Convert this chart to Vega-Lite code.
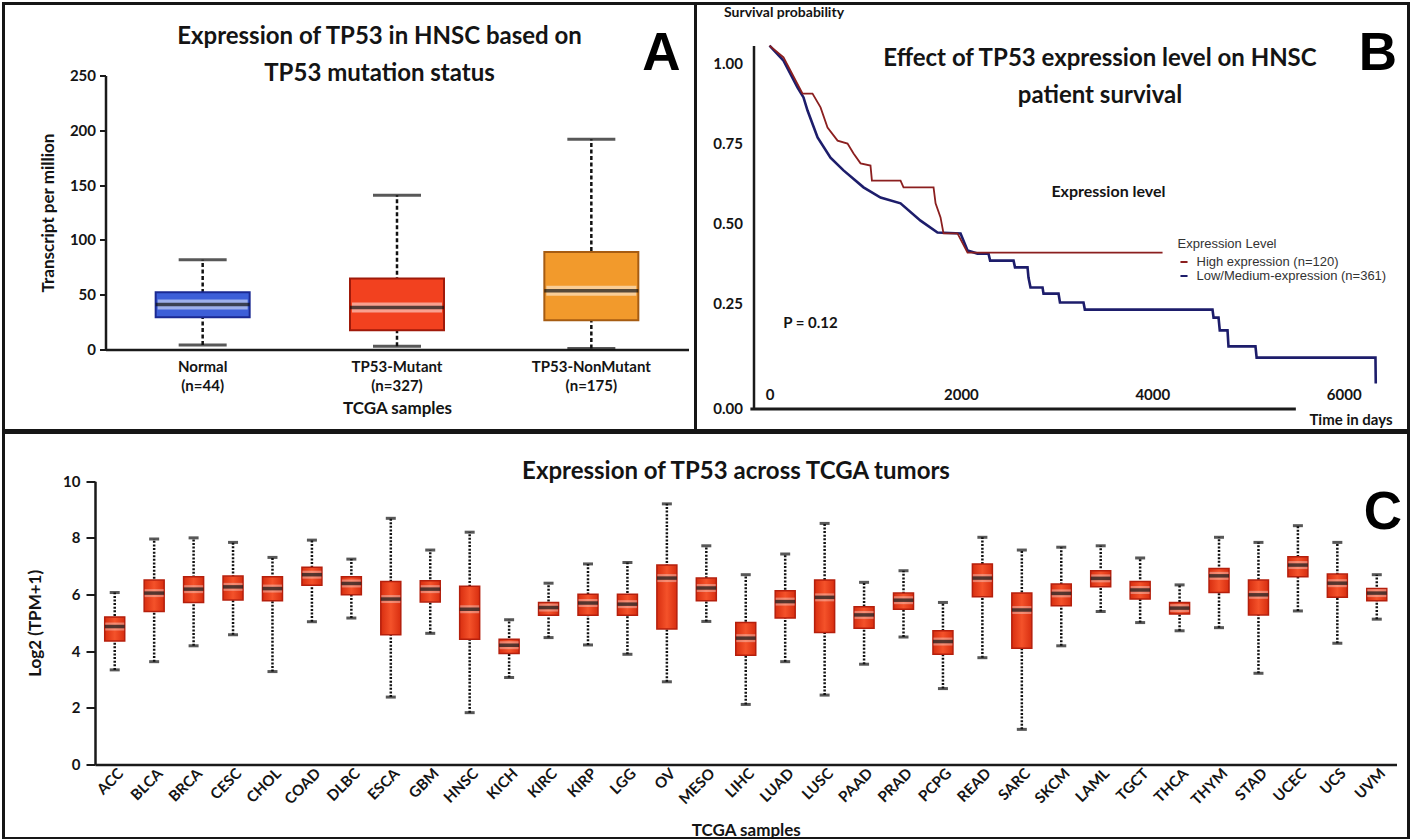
{
  "$schema": "https://vega.github.io/schema/vega-lite/v6.json",
  "background": "white",
  "padding": 1.5,
  "spacing": -6,
  "config": {
    "font": "Lato",
    "view": {"stroke": "#161616", "strokeWidth": 3},
    "axis": {"grid": false, "labelFont": "Lato", "labelFontWeight": "bold", "labelColor": "#141414", "titleFont": "Lato", "titleFontWeight": "bold", "titleColor": "#141414", "domainColor": "#1a1a1a", "domainWidth": 2.5, "tickColor": "#1a1a1a", "tickWidth": 2, "labelFlush": false},
    "title": {"font": "Lato", "fontWeight": "bold", "fontSize": 24, "color": "#141414", "anchor": "middle", "frame": "group", "lineHeight": 37}
  },
  "datasets": {
    "hnsc": [
      {"group": "Normal (n=44)", "lower": 4.2, "q1": 29.5, "median": 41, "q3": 52.3, "upper": 81.8},
      {"group": "TP53-Mutant (n=327)", "lower": 3, "q1": 17.6, "median": 38.3, "q3": 64.8, "upper": 140.8},
      {"group": "TP53-NonMutant (n=175)", "lower": 0.9, "q1": 26.7, "median": 53.5, "q3": 89, "upper": 191.9}
    ],
    "km": [
      {"group": "Low/Medium-expression (n=361)", "time": 0, "surv": 1.056},
      {"group": "Low/Medium-expression (n=361)", "time": 146, "surv": 1.009},
      {"group": "Low/Medium-expression (n=361)", "time": 293, "surv": 0.925},
      {"group": "Low/Medium-expression (n=361)", "time": 355, "surv": 0.894},
      {"group": "Low/Medium-expression (n=361)", "time": 397, "surv": 0.853},
      {"group": "Low/Medium-expression (n=361)", "time": 502, "surv": 0.769},
      {"group": "Low/Medium-expression (n=361)", "time": 637, "surv": 0.706},
      {"group": "Low/Medium-expression (n=361)", "time": 773, "surv": 0.666},
      {"group": "Low/Medium-expression (n=361)", "time": 982, "surv": 0.613},
      {"group": "Low/Medium-expression (n=361)", "time": 1160, "surv": 0.581},
      {"group": "Low/Medium-expression (n=361)", "time": 1369, "surv": 0.563},
      {"group": "Low/Medium-expression (n=361)", "time": 1578, "surv": 0.509},
      {"group": "Low/Medium-expression (n=361)", "time": 1755, "surv": 0.472},
      {"group": "Low/Medium-expression (n=361)", "time": 1996, "surv": 0.469},
      {"group": "Low/Medium-expression (n=361)", "time": 2069, "surv": 0.416},
      {"group": "Low/Medium-expression (n=361)", "time": 2173, "surv": 0.406},
      {"group": "Low/Medium-expression (n=361)", "time": 2288, "surv": 0.406},
      {"group": "Low/Medium-expression (n=361)", "time": 2305, "surv": 0.384},
      {"group": "Low/Medium-expression (n=361)", "time": 2550, "surv": 0.384},
      {"group": "Low/Medium-expression (n=361)", "time": 2565, "surv": 0.363},
      {"group": "Low/Medium-expression (n=361)", "time": 2696, "surv": 0.363},
      {"group": "Low/Medium-expression (n=361)", "time": 2706, "surv": 0.331},
      {"group": "Low/Medium-expression (n=361)", "time": 2727, "surv": 0.300},
      {"group": "Low/Medium-expression (n=361)", "time": 2853, "surv": 0.300},
      {"group": "Low/Medium-expression (n=361)", "time": 2863, "surv": 0.281},
      {"group": "Low/Medium-expression (n=361)", "time": 3020, "surv": 0.281},
      {"group": "Low/Medium-expression (n=361)", "time": 3035, "surv": 0.253},
      {"group": "Low/Medium-expression (n=361)", "time": 3281, "surv": 0.253},
      {"group": "Low/Medium-expression (n=361)", "time": 3295, "surv": 0.231},
      {"group": "Low/Medium-expression (n=361)", "time": 4629, "surv": 0.231},
      {"group": "Low/Medium-expression (n=361)", "time": 4640, "surv": 0.206},
      {"group": "Low/Medium-expression (n=361)", "time": 4692, "surv": 0.206},
      {"group": "Low/Medium-expression (n=361)", "time": 4705, "surv": 0.166},
      {"group": "Low/Medium-expression (n=361)", "time": 4786, "surv": 0.166},
      {"group": "Low/Medium-expression (n=361)", "time": 4796, "surv": 0.116},
      {"group": "Low/Medium-expression (n=361)", "time": 5078, "surv": 0.116},
      {"group": "Low/Medium-expression (n=361)", "time": 5090, "surv": 0.081},
      {"group": "Low/Medium-expression (n=361)", "time": 6332, "surv": 0.081},
      {"group": "Low/Medium-expression (n=361)", "time": 6335, "surv": 0.0},
      {"group": "High expression (n=120)", "time": 0, "surv": 1.056},
      {"group": "High expression (n=120)", "time": 146, "surv": 1.019},
      {"group": "High expression (n=120)", "time": 345, "surv": 0.906},
      {"group": "High expression (n=120)", "time": 449, "surv": 0.906},
      {"group": "High expression (n=120)", "time": 533, "surv": 0.863},
      {"group": "High expression (n=120)", "time": 606, "surv": 0.800},
      {"group": "High expression (n=120)", "time": 711, "surv": 0.759},
      {"group": "High expression (n=120)", "time": 815, "surv": 0.750},
      {"group": "High expression (n=120)", "time": 878, "surv": 0.719},
      {"group": "High expression (n=120)", "time": 951, "surv": 0.688},
      {"group": "High expression (n=120)", "time": 1055, "surv": 0.681},
      {"group": "High expression (n=120)", "time": 1070, "surv": 0.634},
      {"group": "High expression (n=120)", "time": 1369, "surv": 0.634},
      {"group": "High expression (n=120)", "time": 1400, "surv": 0.613},
      {"group": "High expression (n=120)", "time": 1714, "surv": 0.613},
      {"group": "High expression (n=120)", "time": 1735, "surv": 0.563},
      {"group": "High expression (n=120)", "time": 1787, "surv": 0.519},
      {"group": "High expression (n=120)", "time": 1818, "surv": 0.469},
      {"group": "High expression (n=120)", "time": 1964, "surv": 0.469},
      {"group": "High expression (n=120)", "time": 2069, "surv": 0.409},
      {"group": "High expression (n=120)", "time": 4107, "surv": 0.409}
    ],
    "tcga": [
      {"tumor": "ACC", "lower": 3.34, "q1": 4.36, "median": 4.87, "q3": 5.21, "upper": 6.07},
      {"tumor": "BLCA", "lower": 3.63, "q1": 5.40, "median": 6.05, "q3": 6.51, "upper": 7.96},
      {"tumor": "BRCA", "lower": 4.19, "q1": 5.72, "median": 6.19, "q3": 6.63, "upper": 8.0},
      {"tumor": "CESC", "lower": 4.58, "q1": 5.81, "median": 6.27, "q3": 6.65, "upper": 7.84},
      {"tumor": "CHOL", "lower": 3.28, "q1": 5.78, "median": 6.21, "q3": 6.63, "upper": 7.31},
      {"tumor": "COAD", "lower": 5.04, "q1": 6.33, "median": 6.70, "q3": 6.96, "upper": 7.92},
      {"tumor": "DLBC", "lower": 5.17, "q1": 5.99, "median": 6.39, "q3": 6.63, "upper": 7.25},
      {"tumor": "ESCA", "lower": 2.38, "q1": 4.58, "median": 5.84, "q3": 6.46, "upper": 8.69},
      {"tumor": "GBM", "lower": 4.63, "q1": 5.74, "median": 6.19, "q3": 6.49, "upper": 7.57},
      {"tumor": "HNSC", "lower": 1.83, "q1": 4.42, "median": 5.48, "q3": 6.29, "upper": 8.20},
      {"tumor": "KICH", "lower": 3.07, "q1": 3.92, "median": 4.21, "q3": 4.42, "upper": 5.11},
      {"tumor": "KIRC", "lower": 4.48, "q1": 5.27, "median": 5.54, "q3": 5.72, "upper": 6.40},
      {"tumor": "KIRP", "lower": 4.22, "q1": 5.27, "median": 5.70, "q3": 6.01, "upper": 7.08},
      {"tumor": "LGG", "lower": 3.89, "q1": 5.27, "median": 5.66, "q3": 6.01, "upper": 7.13},
      {"tumor": "OV", "lower": 2.92, "q1": 4.78, "median": 6.58, "q3": 7.04, "upper": 9.20},
      {"tumor": "MESO", "lower": 5.05, "q1": 5.78, "median": 6.23, "q3": 6.58, "upper": 7.72},
      {"tumor": "LIHC", "lower": 2.12, "q1": 3.86, "median": 4.46, "q3": 5.01, "upper": 6.70},
      {"tumor": "LUAD", "lower": 3.63, "q1": 5.17, "median": 5.75, "q3": 6.13, "upper": 7.43},
      {"tumor": "LUSC", "lower": 2.45, "q1": 4.66, "median": 5.90, "q3": 6.51, "upper": 8.51},
      {"tumor": "PAAD", "lower": 3.54, "q1": 4.81, "median": 5.28, "q3": 5.57, "upper": 6.43},
      {"tumor": "PRAD", "lower": 4.50, "q1": 5.48, "median": 5.80, "q3": 6.05, "upper": 6.84},
      {"tumor": "PCPG", "lower": 2.68, "q1": 3.89, "median": 4.34, "q3": 4.72, "upper": 5.72},
      {"tumor": "READ", "lower": 3.77, "q1": 5.92, "median": 6.58, "q3": 7.08, "upper": 8.02},
      {"tumor": "SARC", "lower": 1.24, "q1": 4.10, "median": 5.45, "q3": 6.05, "upper": 7.57},
      {"tumor": "SKCM", "lower": 4.19, "q1": 5.60, "median": 6.04, "q3": 6.37, "upper": 7.67},
      {"tumor": "LAML", "lower": 5.40, "q1": 6.27, "median": 6.57, "q3": 6.84, "upper": 7.72},
      {"tumor": "TGCT", "lower": 5.01, "q1": 5.84, "median": 6.16, "q3": 6.46, "upper": 7.29},
      {"tumor": "THCA", "lower": 4.72, "q1": 5.31, "median": 5.52, "q3": 5.72, "upper": 6.34},
      {"tumor": "THYM", "lower": 4.83, "q1": 6.07, "median": 6.66, "q3": 6.92, "upper": 8.02},
      {"tumor": "STAD", "lower": 3.22, "q1": 5.28, "median": 5.99, "q3": 6.51, "upper": 7.84},
      {"tumor": "UCEC", "lower": 5.42, "q1": 6.63, "median": 7.04, "q3": 7.33, "upper": 8.43},
      {"tumor": "UCS", "lower": 4.28, "q1": 5.90, "median": 6.40, "q3": 6.72, "upper": 7.84},
      {"tumor": "UVM", "lower": 5.13, "q1": 5.78, "median": 6.05, "q3": 6.21, "upper": 6.70}
    ]
  },
  "vconcat": [
    {
      "spacing": 0,
      "bounds": "flush",
      "hconcat": [
        {
          "width": 692,
          "height": 427,
          "title": {"text": ["Expression of TP53 in HNSC based on", "TP53 mutation status"], "offset": -82, "dx": 30},
          "layer": [
            {
              "data": {"name": "hnsc"},
              "mark": {"type": "rule", "strokeDash": [4, 2.5], "strokeWidth": 2.5, "color": "#111111"},
              "encoding": {
                "x": {"field": "group", "type": "nominal", "sort": null,
                  "scale": {"range": [102, 685], "paddingInner": 0, "paddingOuter": 0},
                  "axis": {"orient": "bottom", "offset": -81, "title": "TCGA samples", "titleFontSize": 17, "titlePadding": 7, "labelExpr": "split(datum.value, ' ')", "labelAngle": 0, "labelFontSize": 15, "labelLineHeight": 19, "labelPadding": 10, "ticks": false}},
                "y": {"field": "lower", "type": "quantitative",
                  "scale": {"domain": [0, 250], "range": [346, 72], "nice": false, "zero": false},
                  "axis": {"orient": "left", "offset": -102, "values": [0, 50, 100, 150, 200, 250], "title": "Transcript per million", "titleFontSize": 17, "titlePadding": 12, "labelFontSize": 15, "tickSize": 6, "labelPadding": 4}},
                "y2": {"field": "upper"}
              }
            },
            {
              "data": {"name": "hnsc"},
              "mark": {"type": "tick", "size": 48, "thickness": 3, "color": "#111111"},
              "encoding": {"x": {"field": "group", "type": "nominal", "sort": null}, "y": {"field": "lower", "type": "quantitative"}}
            },
            {
              "data": {"name": "hnsc"},
              "mark": {"type": "tick", "size": 48, "thickness": 3, "color": "#111111"},
              "encoding": {"x": {"field": "group", "type": "nominal", "sort": null}, "y": {"field": "upper", "type": "quantitative"}}
            },
            {
              "data": {"name": "hnsc"},
              "mark": {"type": "bar", "size": 94, "strokeWidth": 2},
              "encoding": {
                "x": {"field": "group", "type": "nominal", "sort": null},
                "y": {"field": "q1", "type": "quantitative"},
                "y2": {"field": "q3"},
                "fill": {"field": "group", "type": "nominal", "scale": {"range": ["#3d5fd8", "#f2411f", "#f29a2c"]}, "legend": null},
                "stroke": {"field": "group", "type": "nominal", "scale": {"range": ["#1b2a93", "#a01a0a", "#a65c12"]}, "legend": null}
              }
            },
            {
              "data": {"name": "hnsc"},
              "mark": {"type": "tick", "size": 90, "thickness": 10, "color": "white", "opacity": 0.5},
              "encoding": {"x": {"field": "group", "type": "nominal", "sort": null}, "y": {"field": "median", "type": "quantitative"}}
            },
            {
              "data": {"name": "hnsc"},
              "mark": {"type": "tick", "size": 94, "thickness": 3.5, "color": "#111111"},
              "encoding": {"x": {"field": "group", "type": "nominal", "sort": null}, "y": {"field": "median", "type": "quantitative"}}
            },
            {
              "data": {"values": [{}]},
              "mark": {"type": "text", "font": "Liberation Sans", "fontWeight": "bold", "fontSize": 53, "baseline": "alphabetic", "align": "center", "dx": 70, "color": "#000000"},
              "encoding": {"x": {"datum": "TP53-NonMutant (n=175)"}, "y": {"datum": 254.6}, "text": {"value": "A"}}
            }
          ]
        },
        {
          "width": 713,
          "height": 427,
          "title": {"text": ["Effect of TP53 expression level on HNSC", "patient survival"], "offset": -104, "dx": 48},
          "layer": [
            {
              "data": {"name": "km"},
              "transform": [{"filter": "datum.group == 'Low/Medium-expression (n=361)'"}],
              "mark": {"type": "line", "strokeWidth": 2.6, "interpolate": "linear"},
              "encoding": {
                "x": {"field": "time", "type": "quantitative",
                  "scale": {"domain": [-200, 6000], "range": [54.9, 648.2], "nice": false, "zero": false},
                  "axis": {"orient": "bottom", "offset": -21.4, "domain": false, "ticks": false, "tickSize": 0, "values": [0, 2000, 4000, 6000], "format": "d", "labelFontSize": 15, "labelBaseline": "alphabetic", "labelPadding": -10, "labelFlush": false, "title": "Time in days", "titleFontSize": 15, "titleX": 655, "titleY": 10, "titleAlign": "center", "titleBaseline": "middle"}},
                "y": {"field": "surv", "type": "quantitative",
                  "scale": {"domain": [-0.08, 1.056], "range": [405.6, 42.1], "nice": false, "zero": false},
                  "axis": {"orient": "left", "offset": -58, "values": [0, 0.25, 0.5, 0.75, 1], "format": ".2f", "ticks": false, "tickSize": 0, "labelPadding": 11, "labelFontSize": 15, "labelOffset": {"condition": {"test": "datum.value == 0", "value": 25}, "value": 0}, "title": "Survival probability", "titleFontSize": 14, "titleAngle": 0, "titleX": 30, "titleY": 9, "titleAlign": "center", "titleBaseline": "middle"}},
                "color": {"field": "group", "type": "nominal",
                  "scale": {"domain": ["High expression (n=120)", "Low/Medium-expression (n=361)"], "range": ["#8b1f1f", "#1d1d6b"]},
                  "legend": {"orient": "none", "legendX": 1174, "legendY": 234, "title": "Expression Level", "titleFont": "Liberation Sans", "titleFontWeight": "normal", "titleFontSize": 13, "titleColor": "#333333", "labelFont": "Liberation Sans", "labelFontSize": 13, "labelColor": "#333333", "labelLimit": 400, "symbolType": "stroke", "symbolSize": 50, "symbolStrokeWidth": 2, "rowPadding": -3, "titlePadding": 5, "labelOffset": 6, "padding": 0}}
              }
            },
            {
              "data": {"name": "km"},
              "transform": [{"filter": "datum.group == 'High expression (n=120)'"}],
              "mark": {"type": "line", "strokeWidth": 1.8, "interpolate": "linear"},
              "encoding": {
                "x": {"field": "time", "type": "quantitative"},
                "y": {"field": "surv", "type": "quantitative"},
                "color": {"field": "group", "type": "nominal"}
              }
            },
            {
              "data": {"values": [{}]},
              "mark": {"type": "rule", "strokeWidth": 3, "color": "#1a1a1a"},
              "encoding": {"x": {"datum": -200}, "x2": {"datum": 5500}, "y": {"datum": -0.08}}
            },
            {
              "data": {"values": [{}]},
              "mark": {"type": "text", "font": "Lato", "fontWeight": "bold", "fontSize": 15, "color": "#141414"},
              "encoding": {"x": {"datum": 428}, "y": {"datum": 0.19}, "text": {"value": "P = 0.12"}}
            },
            {
              "data": {"values": [{}]},
              "mark": {"type": "text", "font": "Lato", "fontWeight": "bold", "fontSize": 16, "color": "#141414"},
              "encoding": {"x": {"datum": 3542}, "y": {"datum": 0.597}, "text": {"value": "Expression level"}}
            },
            {
              "data": {"values": [{}]},
              "mark": {"type": "text", "font": "Liberation Sans", "fontWeight": "bold", "fontSize": 53, "baseline": "alphabetic", "align": "center", "color": "#000000"},
              "encoding": {"x": {"datum": 6358}, "y": {"datum": 0.981}, "text": {"value": "B"}}
            }
          ]
        }
      ]
    },
    {
      "width": 1405,
      "height": 406,
      "title": {"text": "Expression of TP53 across TCGA tumors", "offset": -51, "dx": 30},
      "layer": [
        {
          "data": {"name": "tcga"},
          "mark": {"type": "rule", "strokeDash": [2, 1.6], "strokeWidth": 2.5, "color": "#111111"},
          "encoding": {
            "x": {"field": "tumor", "type": "nominal", "sort": null,
              "scale": {"range": [91.5, 1393], "paddingInner": 0, "paddingOuter": 0},
              "axis": {"orient": "bottom", "offset": -74, "ticks": false, "labelAngle": -45, "labelAlign": "right", "labelBaseline": "middle", "labelFontSize": 15, "labelPadding": 6, "labelOffset": 6, "title": "TCGA samples", "titleFontSize": 17, "titlePadding": 15}},
            "y": {"field": "lower", "type": "quantitative",
              "scale": {"domain": [0, 10], "range": [332, 48.7], "nice": false, "zero": false},
              "axis": {"orient": "left", "offset": -91.5, "values": [0, 2, 4, 6, 8, 10], "tickSize": 9, "labelPadding": 6, "labelFontSize": 15, "title": "Log2 (TPM+1)", "titleFontSize": 17, "titlePadding": 18}},
            "y2": {"field": "upper"}
          }
        },
        {
          "data": {"name": "tcga"},
          "mark": {"type": "tick", "size": 10, "thickness": 3, "color": "#111111"},
          "encoding": {"x": {"field": "tumor", "type": "nominal", "sort": null}, "y": {"field": "lower", "type": "quantitative"}}
        },
        {
          "data": {"name": "tcga"},
          "mark": {"type": "tick", "size": 10, "thickness": 3, "color": "#111111"},
          "encoding": {"x": {"field": "tumor", "type": "nominal", "sort": null}, "y": {"field": "upper", "type": "quantitative"}}
        },
        {
          "data": {"name": "tcga"},
          "mark": {"type": "bar", "size": 20, "stroke": "#b51f0c", "strokeWidth": 1.5,
            "fill": {"gradient": "linear", "x1": 0, "x2": 1, "y1": 0, "y2": 0, "stops": [{"offset": 0, "color": "#d82e10"}, {"offset": 0.5, "color": "#f4522a"}, {"offset": 1, "color": "#d82e10"}]}},
          "encoding": {
            "x": {"field": "tumor", "type": "nominal", "sort": null},
            "y": {"field": "q1", "type": "quantitative"},
            "y2": {"field": "q3"}
          }
        },
        {
          "data": {"name": "tcga"},
          "mark": {"type": "tick", "size": 19, "thickness": 8, "color": "white", "opacity": 0.35},
          "encoding": {"x": {"field": "tumor", "type": "nominal", "sort": null}, "y": {"field": "median", "type": "quantitative"}}
        },
        {
          "data": {"name": "tcga"},
          "mark": {"type": "tick", "size": 20, "thickness": 3.5, "color": "#111111"},
          "encoding": {"x": {"field": "tumor", "type": "nominal", "sort": null}, "y": {"field": "median", "type": "quantitative"}}
        },
        {
          "data": {"values": [{}]},
          "mark": {"type": "text", "font": "Liberation Sans", "fontWeight": "bold", "fontSize": 53, "baseline": "alphabetic", "align": "center", "dx": 6, "color": "#000000"},
          "encoding": {"x": {"datum": "UVM"}, "y": {"datum": 8.3}, "text": {"value": "C"}}
        }
      ]
    }
  ]
}
